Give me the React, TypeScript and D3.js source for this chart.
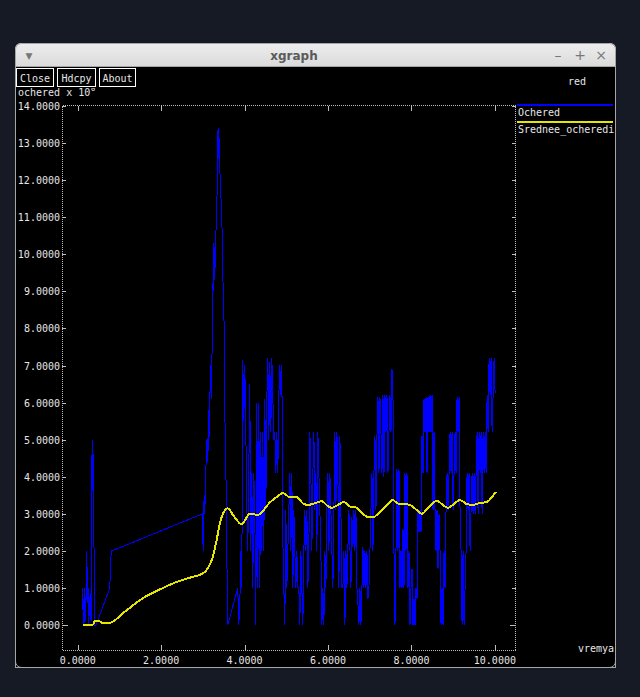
import React from "react";
import * as d3 from "d3";

// tick values
const xTicks = [0, 2, 4, 6, 8, 10];
const yTicks = [0, 1, 2, 3, 4, 5, 6, 7, 8, 9, 10, 11, 12, 13, 14];

const buttons = ["Close", "Hdcpy", "About"];
const legendNames = ["Ochered", "Srednee_ocheredi"];

// queue length over time (vremya, ochered)
const ochered: [number, number][] = [
  [0.11, 1.0], [0.12, 0.4], [0.13, 0.7], [0.15, 0.0], [0.17, 1.0], [0.19, 0.1],
  [0.22, 2.0], [0.23, 0.6], [0.25, 1.0], [0.26, 0.0], [0.3, 0.86], [0.32, 0.1],
  [0.34, 4.5], [0.36, 5.0], [0.37, 3.0], [0.38, 4.6], [0.4, 0.0], [0.44, 0.0],
  [0.77, 1.0], [0.79, 1.8], [0.82, 2.0], [2.998, 3.0], [3.005, 2.0], [3.015, 2.2],
  [3.022, 3.0], [3.03, 3.5], [3.046, 3.0], [3.07, 4.1], [3.094, 5.0], [3.118, 4.4],
  [3.13, 5.8], [3.141, 4.7], [3.165, 6.0], [3.189, 7.0], [3.2, 6.1], [3.213, 7.0],
  [3.237, 8.1], [3.25, 10.3], [3.261, 9.0], [3.273, 10.2], [3.285, 9.3], [3.309, 10.5],
  [3.333, 11.1], [3.345, 12.0], [3.357, 13.35], [3.369, 12.6], [3.381, 13.4], [3.405, 12.35],
  [3.429, 11.7], [3.453, 10.9], [3.477, 10.2], [3.49, 8.2], [3.501, 9.0], [3.525, 5.8],
  [3.549, 4.5], [3.56, 3.4], [3.573, 2.0], [3.597, 0.0], [3.837, 1.0], [3.861, 0.0],
  [3.885, 0.5], [3.909, 2.0], [3.933, 1.0], [3.957, 7.15], [3.981, 5.5], [4.005, 7.0],
  [4.029, 5.3], [4.053, 3.3], [4.077, 2.0], [4.101, 4.1],
  [4.125, 6.5], [4.149, 2], [4.173, 4.1], [4.197, 1], [4.221, 4.1], [4.245, 3.1],
  [4.269, 0], [4.293, 6.0], [4.317, 1], [4.341, 6.0], [4.365, 1], [4.389, 5.2],
  [4.413, 2], [4.437, 5.2], [4.461, 2], [4.485, 6.1], [4.509, 3.1], [4.533, 6.1],
  [4.557, 7.2], [4.581, 5.0], [4.605, 7.1], [4.629, 5.2], [4.653, 7.2], [4.677, 6.2],
  [4.701, 5.0], [4.725, 5.2], [4.749, 4.1], [4.773, 5.2], [4.797, 4.1], [4.821, 6.2],
  [4.845, 7.0], [4.869, 6.2], [4.893, 7.0], [4.917, 2.3], [4.941, 1.0], [4.965, 0],
  [4.989, 3.1], [5.013, 1], [5.037, 2], [5.061, 3.1], [5.085, 4.1], [5.109, 2],
  [5.133, 4.1], [5.157, 1], [5.181, 3.1], [5.205, 2], [5.229, 1], [5.253, 2],
  [5.277, 1], [5.301, 1], [5.325, 0], [5.349, 2], [5.373, 1], [5.397, 0],
  [5.421, 2], [5.445, 3.1], [5.469, 2], [5.493, 3.1], [5.517, 1], [5.541, 2],
  [5.565, 5.2], [5.589, 4.1], [5.613, 2], [5.637, 4.1], [5.661, 5.2], [5.685, 3.1],
  [5.709, 4.1], [5.733, 2], [5.757, 5.2], [5.781, 4.1], [5.805, 3.1], [5.829, 2],
  [5.853, 0], [5.877, 1], [5.901, 0], [5.925, 2], [5.949, 1], [5.973, 3.1],
  [5.997, 4.1], [6.021, 2], [6.045, 4.1], [6.069, 3.1], [6.093, 2], [6.117, 1],
  [6.141, 3.1], [6.165, 5.2], [6.189, 3.1], [6.213, 5.2], [6.237, 4.1], [6.261, 1],
  [6.285, 5.1], [6.309, 3.1], [6.333, 1], [6.357, 1], [6.381, 2], [6.405, 0],
  [6.429, 2], [6.453, 1], [6.477, 2.1], [6.501, 3.1], [6.525, 2.1], [6.549, 1],
  [6.573, 2.9], [6.597, 2.1], [6.621, 3.1], [6.645, 2], [6.669, 3.1], [6.693, 1],
  [6.717, 0.6], [6.741, 0], [6.765, 1], [6.789, 0], [6.813, 1], [6.837, 2.1],
  [6.861, 1], [6.885, 2], [6.909, 1], [6.933, 2], [6.957, 0.7], [6.981, 1],
  [7.005, 2], [7.029, 3.1], [7.053, 4.1], [7.077, 2], [7.101, 4.1], [7.125, 5.1],
  [7.149, 3.1], [7.173, 5.1], [7.197, 6.15], [7.221, 4.1], [7.245, 6.15], [7.269, 5.2],
  [7.293, 4.1], [7.317, 6.2], [7.341, 4.0], [7.365, 6.2], [7.389, 5.2], [7.413, 6.2],
  [7.437, 4.1], [7.461, 5.2], [7.485, 6.2], [7.509, 5.2], [7.533, 6.9], [7.557, 6.2],
  [7.581, 2], [7.605, 0], [7.629, 2], [7.653, 4.2], [7.677, 2], [7.701, 4.2],
  [7.725, 1], [7.749, 2], [7.773, 1], [7.797, 2.6], [7.821, 1], [7.845, 4.1],
  [7.869, 2], [7.893, 4.1], [7.917, 1], [7.941, 2], [7.965, 0], [7.989, 1],
  [8.013, 1.5], [8.037, 0], [8.061, 0.7], [8.085, 0], [8.109, 1], [8.133, 0.7],
  [8.157, 3.1], [8.181, 2.5], [8.205, 3.1], [8.229, 2.5], [8.253, 5.1], [8.277, 4.1],
  [8.301, 6.1], [8.325, 5.2], [8.349, 6.15], [8.373, 4.1], [8.397, 6.15], [8.421, 5.2],
  [8.445, 6.2], [8.469, 5.2], [8.493, 6.2], [8.517, 3.1], [8.541, 5.2], [8.565, 3.1],
  [8.589, 2], [8.613, 3.1], [8.637, 1.5], [8.661, 3], [8.685, 2], [8.709, 0],
  [8.733, 1], [8.757, 0], [8.781, 2], [8.805, 1], [8.829, 3.1], [8.853, 4.1],
  [8.877, 3.1], [8.901, 4.1], [8.925, 5.2], [8.949, 4.1], [8.973, 5.2], [8.997, 3.1],
  [9.021, 4.1], [9.045, 5.2], [9.069, 4.1], [9.093, 6.15], [9.117, 5.2], [9.141, 6.15],
  [9.165, 3], [9.189, 2], [9.213, 0], [9.237, 2], [9.261, 0], [9.285, 1],
  [9.309, 2], [9.333, 4.1], [9.357, 3.1], [9.381, 4.1], [9.405, 2], [9.429, 3.1],
  [9.453, 4.1], [9.477, 3], [9.501, 4.1], [9.525, 3], [9.549, 4.1], [9.573, 5.2],
  [9.597, 3], [9.621, 5.2], [9.645, 4.1], [9.669, 5.2], [9.693, 3], [9.717, 5.2],
  [9.741, 4.1], [9.765, 5.2], [9.789, 4.1], [9.813, 6.2], [9.837, 5.2], [9.861, 7.2],
  [9.885, 6.2], [9.909, 7.2], [9.933, 5.2], [9.957, 6.2], [9.981, 7.2], [10.005, 6.25],
];

// running mean of the queue
const sredneeOcheredi: [number, number][] = [
  [0.12, 0], [0.36, 0], [0.41, 0.1], [0.53, 0.1], [0.58, 0.06], [0.77, 0.06],
  [0.94, 0.17], [1.06, 0.3], [1.18, 0.4], [1.37, 0.57], [1.56, 0.72], [1.97, 0.96],
  [2.37, 1.16], [2.76, 1.3], [3.0, 1.39], [3.12, 1.53], [3.24, 1.84], [3.33, 2.29],
  [3.41, 2.75], [3.48, 3.0], [3.6, 3.15], [3.72, 2.97], [3.93, 2.72], [4.05, 2.9],
  [4.12, 3.0], [4.32, 2.97], [4.44, 3.08], [4.6, 3.3], [4.77, 3.45], [4.92, 3.56],
  [5.08, 3.45], [5.25, 3.45], [5.4, 3.28], [5.52, 3.24], [5.68, 3.28], [5.85, 3.34],
  [6.0, 3.2], [6.09, 3.16], [6.24, 3.24], [6.38, 3.32], [6.52, 3.2], [6.69, 3.16],
  [6.83, 3.0], [7.0, 2.9], [7.07, 2.9], [7.24, 3.05], [7.41, 3.24], [7.55, 3.37],
  [7.67, 3.28], [7.84, 3.26], [7.96, 3.24], [8.13, 3.1], [8.25, 3.0], [8.37, 3.12],
  [8.49, 3.27], [8.61, 3.35], [8.75, 3.24], [8.87, 3.16], [8.99, 3.24], [9.16, 3.37],
  [9.33, 3.26], [9.47, 3.24], [9.64, 3.29], [9.81, 3.32], [9.93, 3.45], [10.02, 3.59],
];

const mono = "'DejaVu Sans Mono', monospace";
const fg = "#e6e6e6";

const App = () => {
  const W = 640;
  const H = 697;
  // plot frame
  const fl = 62, fr = 515, ft = 105, fb = 650;

  const x = d3.scaleLinear().domain([0, 10]).range([77.7, 494.9]);
  const y = d3.scaleLinear().domain([0, 14]).range([625, 106]);

  const rawLine = d3.line<[number, number]>()
    .x((d) => x(d[0]))
    .y((d) => y(d[1]));
  const meanLine = d3.line<[number, number]>()
    .x((d) => x(d[0]))
    .y((d) => y(d[1]))
    .curve(d3.curveMonotoneX);

  const btnX = [16.5, 57.5, 99.5];
  const btnW = [37, 38, 36];

  return (
    <svg width={W} height={H} style={{ position: "absolute", left: 0, top: 0 }}>
      <defs>
        <linearGradient id="tb" x1="0" y1="0" x2="0" y2="1">
          <stop offset="0" stopColor="#eeeeee" />
          <stop offset="1" stopColor="#d5d5d5" />
        </linearGradient>
        <clipPath id="lbl">
          <rect x={16} y={88} width={200} height={14} />
        </clipPath>
      </defs>
      <rect width={W} height={H} fill="#151a24" />

      {/* window */}
      <rect x={15} y={43} width={601} height={30} rx={6} fill="url(#tb)" />
      <rect x={15} y={66} width={601} height={602} fill="#000" />
      <rect x={15.5} y={43.5} width={600} height={624} rx={6} fill="none" stroke="#a5a5a5" />
      <rect x={15.5} y={66.5} width={600} height={601} fill="none" stroke="#a5a5a5" />
      <text x={294} y={60} textAnchor="middle" fontFamily="'DejaVu Sans', sans-serif" fontSize={12} fontWeight="bold" fill="#5a5a5a">xgraph</text>
      <text x={29} y={59} textAnchor="middle" fontFamily="'DejaVu Sans', sans-serif" fontSize={9} fill="#777">▼</text>
      <text x={558} y={60} textAnchor="middle" fontFamily="'DejaVu Sans', sans-serif" fontSize={14} fill="#777">–</text>
      <text x={580} y={60} textAnchor="middle" fontFamily="'DejaVu Sans', sans-serif" fontSize={14} fill="#777">+</text>
      <text x={601} y={60} textAnchor="middle" fontFamily="'DejaVu Sans', sans-serif" fontSize={14} fill="#777">×</text>

      {/* buttons */}
      {buttons.map((b, i) => (
        <g key={b}>
          <rect x={btnX[i]} y={68.5} width={btnW[i]} height={18} fill="#000" stroke="#fff" />
          <text x={btnX[i] + btnW[i] / 2} y={82} textAnchor="middle" fontFamily={mono} fontSize={10} fill={fg}>{b}</text>
        </g>
      ))}
      <text x={568} y={85} fontFamily={mono} fontSize={10} fill={fg}>red</text>
      <g clipPath="url(#lbl)">
        <text x={18} y={96} fontFamily={mono} fontSize={10} fill={fg}>ochered x 10</text>
        <text x={91} y={91} fontFamily={mono} fontSize={7} fill={fg}>0</text>
      </g>

      {/* frame */}
      <rect x={fl + 0.5} y={ft + 0.5} width={fr - fl} height={fb - ft} fill="none" stroke="#bdbdbd" strokeDasharray="1,1" shapeRendering="crispEdges" />

      {/* y ticks */}
      {yTicks.map((v) => (
        <g key={"y" + v}>
          <line x1={fl} x2={fl + (v === 0 ? 6 : 4)} y1={Math.round(y(v)) + 0.5} y2={Math.round(y(v)) + 0.5} stroke="#bdbdbd" shapeRendering="crispEdges" />
          <line x1={fr + 1 - (v === 0 ? 6 : 4)} x2={fr + 1} y1={Math.round(y(v)) + 0.5} y2={Math.round(y(v)) + 0.5} stroke="#bdbdbd" shapeRendering="crispEdges" />
          <text x={60} y={y(v) + 4} textAnchor="end" fontFamily={mono} fontSize={10} fill={fg}>{v.toFixed(4)}</text>
        </g>
      ))}

      {/* x ticks */}
      {xTicks.map((v) => (
        <g key={"x" + v}>
          <line x1={Math.round(x(v)) + 0.5} x2={Math.round(x(v)) + 0.5} y1={fb} y2={fb - 5} stroke="#bdbdbd" shapeRendering="crispEdges" />
          <line x1={Math.round(x(v)) + 0.5} x2={Math.round(x(v)) + 0.5} y1={ft + 1} y2={ft + 6} stroke="#bdbdbd" shapeRendering="crispEdges" />
          <text x={x(v)} y={664} textAnchor="middle" fontFamily={mono} fontSize={10} fill={fg}>{v.toFixed(4)}</text>
        </g>
      ))}

      {/* series */}
      <path d={rawLine(ochered) || ""} fill="none" stroke="#0000ff" strokeWidth={1} shapeRendering="crispEdges" />
      <path d={meanLine(sredneeOcheredi) || ""} fill="none" stroke="#e6e600" strokeWidth={2} shapeRendering="crispEdges" />

      {/* legend */}
      <line x1={517} x2={613} y1={104.5} y2={104.5} stroke="#0000ff" strokeWidth={2} shapeRendering="crispEdges" />
      <text x={518} y={116} fontFamily={mono} fontSize={10} fill={fg}>{legendNames[0]}</text>
      <line x1={517} x2={613} y1={121.5} y2={121.5} stroke="#e6e600" strokeWidth={2} shapeRendering="crispEdges" />
      <text x={518} y={133} fontFamily={mono} fontSize={10} fill={fg}>{legendNames[1]}</text>

      <text x={578} y={652} fontFamily={mono} fontSize={10} fill={fg}>vremya</text>
    </svg>
  );
};

export default App;
